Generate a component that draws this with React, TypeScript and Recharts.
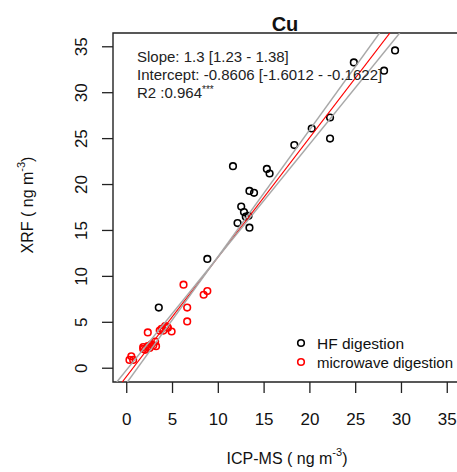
import { ScatterChart, Scatter, XAxis, YAxis, ReferenceArea, Legend } from 'recharts';

// HF digestion (black circles)
const hfX = [29.3, 24.8, 28.1, 22.2, 20.2, 22.2, 18.3, 11.6, 15.3, 15.6, 13.4, 13.9, 12.5, 12.8, 13.3, 13.0, 12.1, 13.4, 8.8, 3.5];
const hfY = [34.6, 33.3, 32.4, 27.3, 26.1, 25.0, 24.3, 22.0, 21.7, 21.2, 19.3, 19.1, 17.6, 17.0, 16.6, 16.5, 15.8, 15.3, 11.9, 6.6];

// microwave digestion (red circles)
const mwX = [6.2, 8.8, 8.4, 6.6, 6.6, 2.3, 4.2, 4.5, 4.9, 4.0, 3.6, 3.8, 4.4, 3.1, 2.7, 3.2, 2.3, 1.8, 2.0, 2.5, 2.9, 1.8, 0.5, 0.7, 0.3];
const mwY = [9.1, 8.4, 8.0, 6.6, 5.1, 3.9, 4.6, 4.4, 4.0, 4.1, 4.1, 4.3, 4.5, 2.9, 2.6, 2.4, 2.4, 2.3, 2.0, 2.2, 2.5, 2.1, 1.3, 0.9, 0.9];

// fitted line and its confidence lines
const fitSlopes = [1.3, 1.38, 1.23];
const fitIntercepts = [-0.8606, -1.6012, -0.1622];
const fitColors = ['#ff0000', '#a8a8a8', '#a8a8a8'];

const xTicks = [0, 5, 10, 15, 20, 25, 30, 35];
const yTicks = [0, 5, 10, 15, 20, 25, 30, 35];

const AXIS_MIN = -1.5;
const AXIS_MAX = 36.5;
const FONT = '"Liberation Sans", Arial, sans-serif';

const hfData = hfX.map((x, i) => ({ x, y: hfY[i] }));
const mwData = mwX.map((x, i) => ({ x, y: mwY[i] }));

// ends of an abline where it leaves the plot through bottom/top
const fitLine = (m: number, b: number) => [
  { x: (AXIS_MIN - b) / m, y: AXIS_MIN },
  { x: (AXIS_MAX - b) / m, y: AXIS_MAX },
];

const ring = (color: string) => (props: any) => (
  <circle cx={props.cx} cy={props.cy} r={3.3} fill="none" stroke={color} strokeWidth={1.6} />
);

const XTick = ({ x, y, payload }: any) => (
  <text x={x} y={y + 30} textAnchor="middle" fontSize={17} fill="#111" fontFamily={FONT}>
    {payload.value}
  </text>
);

const YTick = ({ x, y, payload }: any) => (
  <text
    x={x - 13}
    y={y}
    textAnchor="middle"
    fontSize={17}
    fill="#111"
    fontFamily={FONT}
    transform={`rotate(-90, ${x - 13}, ${y})`}
  >
    {payload.value}
  </text>
);

// R stretches these labels a bit wider than the font would
const legendWidths: Record<string, number> = { 'HF digestion': 87, 'microwave digestion': 136 };

const renderLegend = (props: any) => {
  const items = (props.payload || []).filter((p: any) => p.type !== 'none');
  return (
    <svg width={170} height={40} style={{ display: 'block' }}>
      {items.map((p: any, i: number) => (
        <g key={p.value}>
          <circle cx={9} cy={11 + i * 19} r={3.3} fill="none" stroke={p.color} strokeWidth={1.6} />
          <text
            x={25}
            y={17 + i * 19}
            fontSize={14}
            fill="#111"
            fontFamily={FONT}
            textLength={legendWidths[p.value]}
            lengthAdjust="spacingAndGlyphs"
          >
            {p.value}
          </text>
        </g>
      ))}
    </svg>
  );
};

export default function App() {
  return (
    <div
      style={{
        position: 'absolute',
        left: 0,
        top: 0,
        width: 457,
        height: 472,
        overflow: 'hidden',
        background: '#fff',
        fontFamily: FONT,
      }}
    >
      <ScatterChart width={480} height={472} margin={{ top: 33, right: 19, bottom: 0, left: 0 }}>
        <XAxis
          type="number"
          dataKey="x"
          domain={[AXIS_MIN, AXIS_MAX]}
          ticks={xTicks}
          allowDataOverflow
          height={90}
          axisLine={false}
          tickLine={{ stroke: '#222', strokeWidth: 1.3 }}
          tickSize={11}
          tick={<XTick />}
        />
        <YAxis
          type="number"
          dataKey="y"
          domain={[AXIS_MIN, AXIS_MAX]}
          ticks={yTicks}
          allowDataOverflow
          width={113}
          axisLine={false}
          tickLine={{ stroke: '#222', strokeWidth: 1.3 }}
          tickSize={11}
          tick={<YTick />}
        />
        <ReferenceArea
          x1={AXIS_MIN}
          x2={AXIS_MAX}
          y1={AXIS_MIN}
          y2={AXIS_MAX}
          fill="none"
          stroke="#222"
          strokeWidth={1.4}
        />
        <Scatter
          name="HF digestion"
          data={hfData}
          fill="#000"
          shape={ring('#000')}
          isAnimationActive={false}
        />
        <Scatter
          name="microwave digestion"
          data={mwData}
          fill="#ff0000"
          shape={ring('#ff0000')}
          isAnimationActive={false}
        />
        {fitSlopes.map((m, i) => (
          <Scatter
            key={'fit' + i}
            data={fitLine(m, fitIntercepts[i])}
            line={{ stroke: fitColors[i], strokeWidth: i === 0 ? 1.2 : 1.4 }}
            shape={() => <g />}
            legendType="none"
            isAnimationActive={false}
          />
        ))}
        <Legend
          layout="vertical"
          align="center"
          verticalAlign="middle"
          content={renderLegend}
          wrapperStyle={{ left: 292, top: 332, width: 170, height: 40 }}
        />
      </ScatterChart>
      <svg
        width={457}
        height={472}
        style={{ position: 'absolute', left: 0, top: 0, pointerEvents: 'none' }}
        fontFamily={FONT}
      >
        <text x={285} y={31} textAnchor="middle" fontSize={20} fontWeight="bold" fill="#111">
          Cu
        </text>
        <g fontSize={15} fill="#222">
          <text x={137} y={62}>Slope: 1.3 [1.23 - 1.38]</text>
          <text x={137} y={80}>Intercept: -0.8606 [-1.6012 - -0.1622]</text>
          <text x={137} y={98}>
            R2 :0.964<tspan dy={-5} fontSize={10}>***</tspan>
          </text>
        </g>
        <text x={287} y={464} textAnchor="middle" fontSize={16} fill="#111">
          ICP-MS ( ng m<tspan dy={-8} fontSize={11}>-3</tspan>
          <tspan dy={8}>)</tspan>
        </text>
        <text
          x={33}
          y={205}
          textAnchor="middle"
          fontSize={16}
          fill="#111"
          transform="rotate(-90, 33, 205)"
        >
          XRF ( ng m<tspan dy={-8} fontSize={11}>-3</tspan>
          <tspan dy={8}>)</tspan>
        </text>
      </svg>
    </div>
  );
}
